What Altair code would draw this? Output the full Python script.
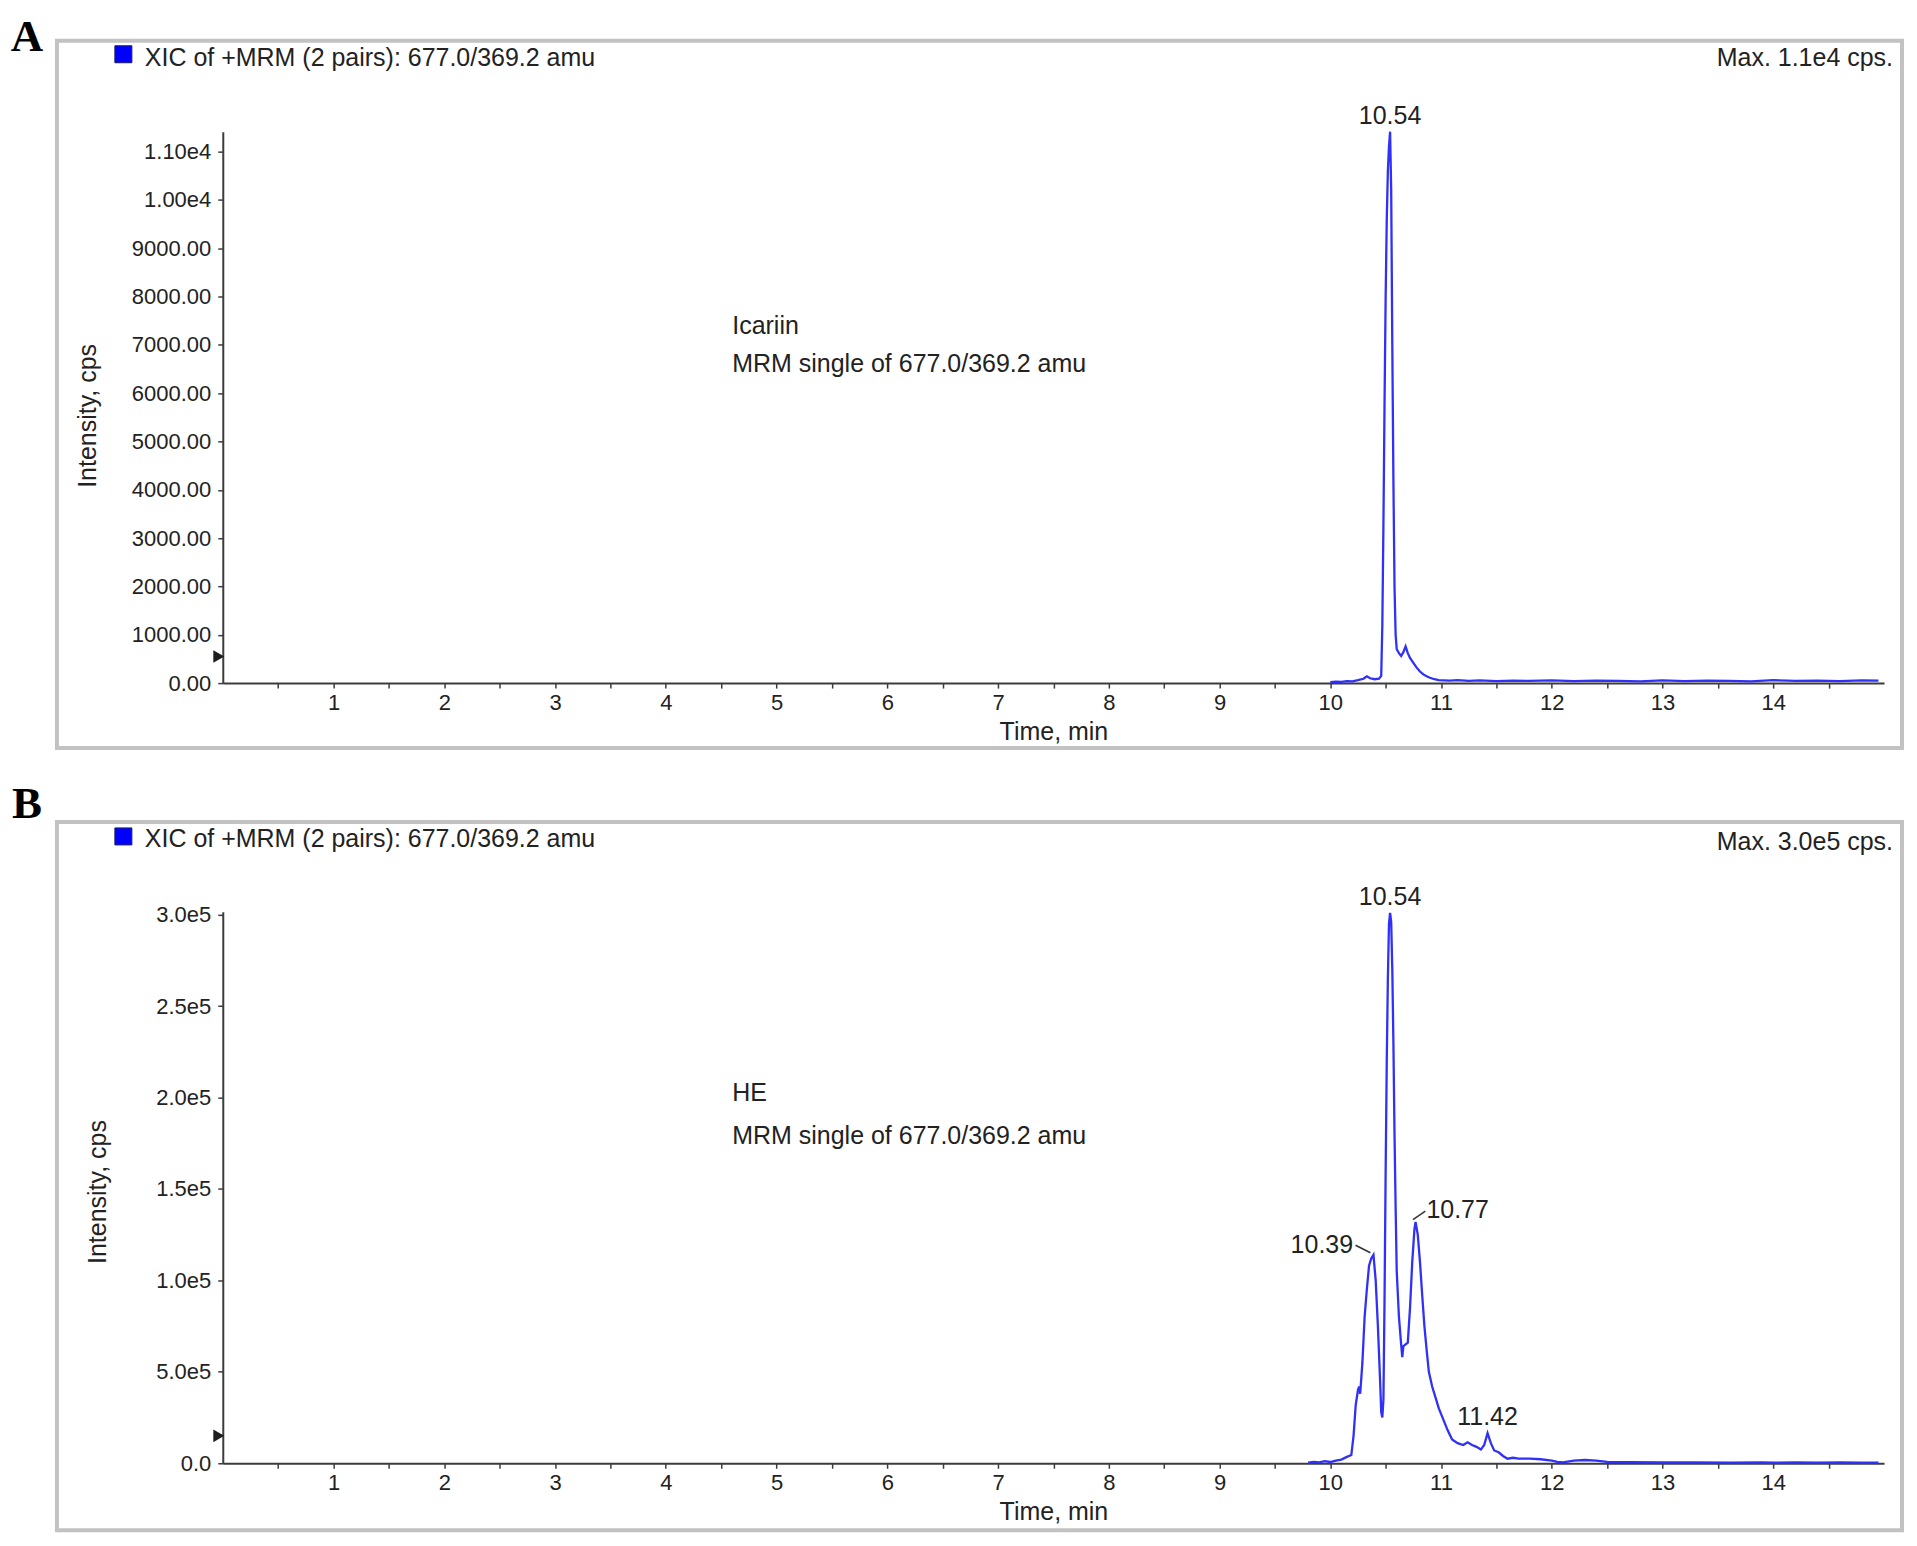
import altair as alt
import pandas as pd

# ---------------- Panel A (Icariin standard) ----------------
a_time = [10.00, 10.05, 10.10, 10.15, 10.20, 10.25, 10.30, 10.33, 10.36, 10.40,
          10.44, 10.46, 10.47, 10.48, 10.49, 10.50, 10.51, 10.52, 10.53, 10.54,
          10.55, 10.56, 10.57, 10.58, 10.59, 10.60, 10.62, 10.64, 10.66, 10.68,
          10.70, 10.72, 10.75, 10.78, 10.81, 10.84, 10.87, 10.90, 10.94, 10.98,
          11.02, 11.08, 11.15, 11.25, 11.35, 11.50, 11.65, 11.80, 12.00, 12.20,
          12.40, 12.60, 12.80, 13.00, 13.20, 13.40, 13.60, 13.80, 14.00, 14.20,
          14.40, 14.60, 14.80, 14.95]
a_int = [20, 30, 25, 40, 35, 60, 90, 140, 100, 80,
         90, 150, 1200, 3300, 5800, 8000, 9600, 10600, 11100, 11413,
         10200, 7000, 4200, 2000, 1000, 700, 620, 560, 640, 760,
         620, 520, 420, 320, 240, 180, 140, 110, 80, 60,
         55, 50, 60, 45, 55, 40, 50, 45, 55, 40,
         50, 45, 35, 55, 40, 50, 45, 35, 60, 45,
         50, 40, 55, 50]

a_peak_time = [10.54]
a_peak_int = [11413]
a_peak_label = ["10.54"]
a_thresh = [550]

a_yticks = [0, 1000, 2000, 3000, 4000, 5000, 6000, 7000, 8000, 9000, 10000, 11000]
a_ylabels = ["0.00", "1000.00", "2000.00", "3000.00", "4000.00", "5000.00",
             "6000.00", "7000.00", "8000.00", "9000.00", "1.00e4", "1.10e4"]

# ---------------- Panel B (HE sample) ----------------
b_time = [9.80, 9.85, 9.90, 9.95, 10.00, 10.05, 10.10, 10.15, 10.19, 10.21,
          10.23, 10.25, 10.26, 10.27, 10.29, 10.31, 10.33, 10.35, 10.37, 10.39,
          10.41, 10.43, 10.45, 10.46, 10.47, 10.48, 10.49, 10.50, 10.51, 10.52,
          10.53, 10.54, 10.55, 10.56, 10.57, 10.58, 10.59, 10.60, 10.62, 10.64,
          10.65, 10.66, 10.68, 10.70, 10.72, 10.74, 10.76, 10.77, 10.79, 10.81,
          10.83, 10.85, 10.87, 10.89, 10.92, 10.95, 10.98, 11.02, 11.06, 11.10,
          11.15, 11.20, 11.24, 11.28, 11.32, 11.36, 11.39, 11.42, 11.45, 11.48,
          11.52, 11.56, 11.60, 11.65, 11.70, 11.80, 11.90, 12.00, 12.05, 12.10,
          12.20, 12.30, 12.40, 12.50, 12.70, 13.00, 13.30, 13.60, 13.90, 14.00,
          14.20, 14.40, 14.60, 14.80, 14.95]
b_int = [300, 800, 500, 1200, 700, 1500, 2000, 3500, 4500, 15000,
         32000, 40000, 42000, 38000, 55000, 80000, 95000, 108000, 112000, 114000,
         100000, 75000, 45000, 28000, 25000, 35000, 90000, 160000, 220000, 265000,
         295000, 301000, 296000, 270000, 230000, 180000, 140000, 105000, 80000, 65000,
         58000, 64000, 65000, 66000, 85000, 110000, 128000, 132000, 125000, 110000,
         92000, 75000, 62000, 50000, 42000, 36000, 30000, 24000, 18000, 13000,
         11000, 10000, 11500, 10000, 9000, 7500, 10000, 16500, 11000, 7000,
         6000, 4000, 2500, 3000, 2500, 2500, 2200, 1500, 800, 500,
         1500, 1800, 1500, 800, 600, 500, 500, 400, 500, 300,
         500, 300, 500, 300, 400]

b_peak_time = [10.54, 11.42]
b_peak_int = [301000, 16500]
b_peak_label = ["10.54", "11.42"]
b_thresh = [15000]

# peaks labelled beside the trace, with a short leader line
b_left_label = ["10.39"]
b_left_time = [10.206]
b_left_int = [119200]
b_left_x1 = [10.228]
b_left_y1 = [119200]
b_left_x2 = [10.362]
b_left_y2 = [115100]

b_right_label = ["10.77"]
b_right_time = [10.868]
b_right_int = [138500]
b_right_x1 = [10.747]
b_right_y1 = [133200]
b_right_x2 = [10.858]
b_right_y2 = [137900]

b_yticks = [0, 50000, 100000, 150000, 200000, 250000, 300000]
b_ylabels = ["0.0", "5.0e5", "1.0e5", "1.5e5", "2.0e5", "2.5e5", "3.0e5"]

x_ticks = [0.5, 1, 1.5, 2, 2.5, 3, 3.5, 4, 4.5, 5, 5.5, 6, 6.5, 7, 7.5, 8, 8.5,
           9, 9.5, 10, 10.5, 11, 11.5, 12, 12.5, 13, 13.5, 14, 14.5]

header_text = "XIC of +MRM (2 pairs): 677.0/369.2 amu"
a_max_text = "Max. 1.1e4 cps."
b_max_text = "Max. 3.0e5 cps."
a_note = ["Icariin", "MRM single of 677.0/369.2 amu"]
b_note = ["HE", "MRM single of 677.0/369.2 amu"]

FONT = "Liberation Sans"
BLUE = "#3030f8"
TXT = "#222222"
FS = 25          # annotation / title text
W, H = 1663, 552
GAP = 229


def label_expr(vals, labs):
    expr = "''"
    for v, l in reversed(list(zip(vals, labs))):
        expr = f"datum.value == {v} ? '{l}' : ({expr})"
    return expr


def one_text(s, x, y, align="left", size=FS, font=FONT, weight="normal", color=TXT):
    return alt.Chart(pd.DataFrame({"t": [s]})).mark_text(
        align=align, baseline="middle", fontSize=size, font=font,
        fontWeight=weight, color=color
    ).encode(text="t:N", x=alt.value(x), y=alt.value(y))


def panel(letter, letter_y, times, ints, ymax, yticks, ylabels, title_x, title_y,
          peak_t, peak_i, peak_l, thresh, max_text, note, note_y, head_y, max_y,
          sq_y, fr_y, extra=None):
    xs = alt.Scale(domain=[0, 15], nice=False, zero=False)
    ys = alt.Scale(domain=[0, ymax], nice=False, zero=True)
    xaxis = alt.Axis(values=x_ticks, labelExpr="datum.value % 1 == 0 ? format(datum.value, 'd') : ''",
                     title="Time, min", labelOverlap=False, labelFlush=False,
                     titleY=48, titleBaseline="middle", titleFontWeight="normal")
    yaxis = alt.Axis(values=yticks, labelExpr=label_expr(yticks, ylabels),
                     title="Intensity, cps", labelOverlap=False, labelFlush=False,
                     titleX=title_x, titleY=title_y, titleAngle=270, titleAlign="center",
                     titleBaseline="middle", titleFontWeight="normal")

    one = pd.DataFrame({"k": [0]})
    frame = alt.Chart(one).mark_rect(fillOpacity=0, stroke="#c2c2c2", strokeWidth=4).encode(
        x=alt.value(-166), x2=alt.value(1681), y=alt.value(fr_y[0]), y2=alt.value(fr_y[1]))
    square = alt.Chart(one).mark_rect(fill="#0000ff", stroke="#1a1a60", strokeWidth=1).encode(
        x=alt.value(-108), x2=alt.value(-91), y=alt.value(sq_y), y2=alt.value(sq_y + 17))

    trace = alt.Chart(pd.DataFrame({"time": times, "intensity": ints})).mark_line(
        color=BLUE, strokeWidth=2.3, interpolate="linear"
    ).encode(x=alt.X("time:Q", scale=xs, axis=xaxis),
             y=alt.Y("intensity:Q", scale=ys, axis=yaxis))

    peaks = alt.Chart(pd.DataFrame({"time": peak_t, "intensity": peak_i, "lab": peak_l})).mark_text(
        align="center", baseline="bottom", dy=-3, fontSize=FS, font=FONT, color=TXT
    ).encode(x=alt.X("time:Q", scale=xs), y=alt.Y("intensity:Q", scale=ys), text="lab:N")

    marker = alt.Chart(pd.DataFrame({"intensity": thresh})).mark_point(
        shape="triangle-right", filled=True, color="#1e1e1e", size=160, opacity=1
    ).encode(x=alt.value(-4), y=alt.Y("intensity:Q", scale=ys))

    layers = [frame, square, trace, peaks, marker,
              one_text(letter, -196, letter_y, align="center", size=45,
                       font="Liberation Serif", weight="bold", color="#000000"),
              one_text(header_text, -78, head_y),
              one_text(max_text, 1672, max_y, align="right"),
              one_text(note[0], 510, note_y[0]),
              one_text(note[1], 510, note_y[1])]
    if extra:
        layers += extra(xs, ys)
    return alt.layer(*layers).properties(width=W, height=H)


def b_extra(xs, ys):
    out = []
    left = pd.DataFrame({"time": b_left_x1, "time2": b_left_x2,
                         "intensity": b_left_y1, "intensity2": b_left_y2})
    right = pd.DataFrame({"time": b_right_x1, "time2": b_right_x2,
                          "intensity": b_right_y1, "intensity2": b_right_y2})
    for df in (left, right):
        out.append(alt.Chart(df).mark_rule(color="#333333", strokeWidth=1.5).encode(
            x=alt.X("time:Q", scale=xs), x2="time2:Q",
            y=alt.Y("intensity:Q", scale=ys), y2="intensity2:Q"))
    out.append(alt.Chart(pd.DataFrame({"time": b_left_time, "intensity": b_left_int,
                                       "lab": b_left_label})).mark_text(
        align="right", baseline="middle", fontSize=FS, font=FONT, color=TXT
    ).encode(x=alt.X("time:Q", scale=xs), y=alt.Y("intensity:Q", scale=ys), text="lab:N"))
    out.append(alt.Chart(pd.DataFrame({"time": b_right_time, "intensity": b_right_int,
                                       "lab": b_right_label})).mark_text(
        align="left", baseline="middle", fontSize=FS, font=FONT, color=TXT
    ).encode(x=alt.X("time:Q", scale=xs), y=alt.Y("intensity:Q", scale=ys), text="lab:N"))
    return out


pA = panel("A", -95, a_time, a_int, 11413, a_yticks, a_ylabels, -135, 284,
           a_peak_time, a_peak_int, a_peak_label, a_thresh, a_max_text, a_note,
           [195, 233], -73.5, -73.5, -86, (-91, 617))
pB = panel("B", -108, b_time, b_int, 301500, b_yticks, b_ylabels, -125, 280,
           b_peak_time, b_peak_int, b_peak_label, b_thresh, b_max_text, b_note,
           [181, 224], -73.3, -69.6, -84, (-90, 619), extra=b_extra)

# autosize "none" on a vconcat: the svg width includes the panel width but not the
# stacked height, so the bottom padding carries the height of both panels.
chart = alt.vconcat(pA, pB, spacing=GAP, bounds="flush").properties(
    autosize=alt.AutoSizeParams(type="none"),
    padding={"left": 215, "top": 123, "right": 25, "bottom": H + GAP + H + 75},
).configure_view(stroke=None).configure_axis(
    grid=False, labelFont=FONT, titleFont=FONT, labelFontSize=22, titleFontSize=FS,
    labelColor=TXT, titleColor=TXT, domainColor="#3c3c3c", domainWidth=2,
    tickColor="#3c3c3c", tickWidth=1.5, tickSize=5, labelPadding=5
).configure_axisY(labelPadding=7).configure_axisX(labelPadding=4)

chart.save("out.html", embed_options={"renderer": "svg", "actions": False})
